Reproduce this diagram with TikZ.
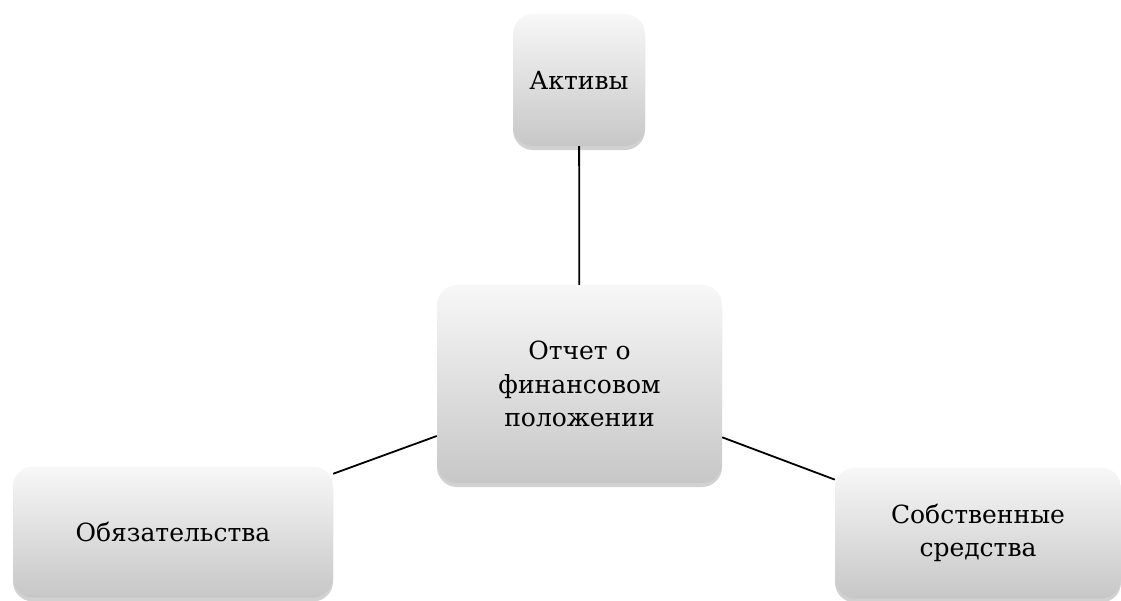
\documentclass[tikz,border=0pt]{standalone}
\usepackage{fontspec}
\setmainfont{DejaVu Serif}
\usetikzlibrary{shadows}
\begin{document}
\begin{tikzpicture}[x=1pt,y=-1pt,
  blok/.style={rectangle, rounded corners=20pt, top color=white!97!black, bottom color=black!22,
    draw=none, align=center, inner sep=0pt,
    font=\fontsize{25}{33.5}\selectfont,
    drop shadow={shadow xshift=0pt, shadow yshift=-4pt, opacity=0.3, fill=black!60}},
  lijn/.style={line width=1.8pt}]
\useasboundingbox (0,0) rectangle (1121,600);
\node[blok, minimum width=132pt, minimum height=132pt] (aktivy) at (579,80) {Активы};
\node[blok, minimum width=285pt, minimum height=198pt] (otchet) at (579.5,384) {Отчет о\\финансовом\\положении};
\node[blok, minimum width=320pt, minimum height=131pt] (obyaz) at (173,532) {Обязательства};
\node[blok, minimum width=286pt, minimum height=131pt] (sobstv) at (978,533) {Собственные\\средства};
\draw[lijn] (aktivy) -- (otchet);
\draw[lijn] (otchet) -- (obyaz);
\draw[lijn] (otchet) -- (sobstv);
\end{tikzpicture}
\end{document}
